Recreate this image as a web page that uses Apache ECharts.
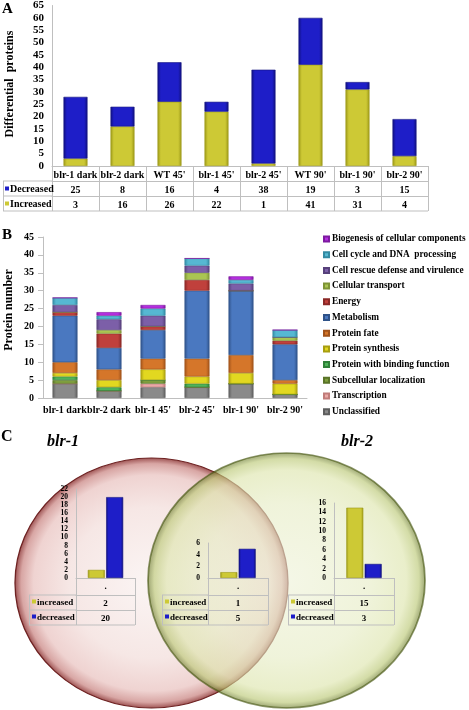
<!DOCTYPE html>
<html><head><meta charset="utf-8">
<script src="https://cdn.jsdelivr.net/npm/echarts@6/dist/echarts.min.js"></script>
<style>html,body{margin:0;padding:0;background:#fff}#c{width:469px;height:710px}</style>
</head><body><div id="c"></div>
<script>
// ---------- Panel A data ----------
const catA = ['blr-1 dark', 'blr-2 dark', "WT 45'", "blr-1 45'", "blr-2 45'", "WT 90'", "blr-1 90'", "blr-2 90'"];
const nameDecA = 'Decreased';
const nameIncA = 'Increased';
const decA = [25, 8, 16, 4, 38, 19, 3, 15];
const incA = [3, 16, 26, 22, 1, 41, 31, 4];
const axisA = {min: 0, max: 65, interval: 5};

// ---------- Panel B data (stack order bottom -> top) ----------
const catB = ['blr-1 dark', 'blr-2 dark', "blr-1 45'", "blr-2 45'", "blr-1 90'", "blr-2 90'"];
const namesB = ['Unclassified', 'Transcription', 'Subcellular localization', 'Protein with binding function',
  'Protein synthesis', 'Protein fate', 'Metabolism', 'Energy', 'Cellular transport',
  'Cell rescue defense and virulence', 'Cell cycle and\u00a0DNA  processing', 'Biogenesis of cellular components'];
const unclassified  = [4, 2, 3, 3, 4, 1];
const transcription = [0, 0, 1, 0, 0, 0];
const subcellular   = [1, 0, 1, 0, 0, 0];
const binding       = [1, 1, 0, 1, 0, 0];
const synthesis     = [1, 2, 3, 2, 3, 3];
const fate          = [3, 3, 3, 5, 5, 1];
const metabolism    = [13, 6, 8, 19, 18, 10];
const energy        = [1, 4, 1, 3, 0, 1];
const transport     = [0, 1, 0, 2, 0, 1];
const rescue        = [2, 3, 3, 2, 2, 0];
const cycle         = [2, 1, 2, 2, 1, 2];
const biogenesis    = [0, 1, 1, 0, 1, 0];
const valuesB = [unclassified, transcription, subcellular, binding, synthesis, fate, metabolism, energy, transport, rescue, cycle, biogenesis];
const axisB = {min: 0, max: 45, interval: 5};

// ---------- Panel C data ----------
const vennNames = ['blr-1', 'blr-2'];
const catC = ['.'];
const nameIncC = 'increased';
const nameDecC = 'decreased';
const incC = [2, 1, 15];
const decC = [20, 5, 3];
const maxC = [22, 6, 16];
const intervalC = 2;

// ---------- styles ----------
const FONT = '"Liberation Serif", "Times New Roman", serif';
const AXC = '#bfbfbf';
function lbl(size) { return {fontFamily: FONT, fontWeight: 'bold', fontSize: size, color: '#000'}; }
function bevel(base, edge) {
  return new echarts.graphic.LinearGradient(0, 0, 1, 0, [
    {offset: 0, color: edge}, {offset: 0.14, color: base}, {offset: 0.86, color: base}, {offset: 1, color: edge}]);
}
const colB = ['#8a8a8a', '#eaa8a6', '#7f9f3e', '#4fb35a', '#e2d820', '#d5762a', '#4a78c0', '#c0403c', '#aac552', '#7c5fa8', '#56b8d2', '#b52ee0'];
const edgeB = ['#5e5e5e', '#c07c7a', '#5a7428', '#2f8038', '#a89e10', '#a0521a', '#2f5288', '#8a2826', '#7e9436', '#56407a', '#338aa2', '#7d1aa0'];
const YEL = '#cdc935', YEL_E = '#9c9818', BLU = '#1e1ec8', BLU_E = '#10107e';

const gridsC = [
  {left: 76, top: 489, width: 59, height: 89, labLeft: 29},
  {left: 208, top: 543, width: 60, height: 35, labLeft: 162},
  {left: 334, top: 503, width: 60, height: 75, labLeft: 288}
];
const rowH0 = 17, rowH = 15;

function tableAxis(gridIndex, data, offset, len, labSize, margin) {
  return {
    gridIndex, type: 'category', data, position: 'bottom', offset,
    axisLine: {show: true, lineStyle: {color: AXC, width: 1}},
    axisTick: {show: true, length: len, interval: 0, lineStyle: {color: AXC, width: 1}},
    axisLabel: Object.assign({interval: 0, margin}, lbl(labSize)),
    splitLine: {show: false}
  };
}

const xAxis = [
  tableAxis(0, catA, 0, 15, 10, 4),
  tableAxis(0, decA.map(String), 15, 15, 10, 4),
  tableAxis(0, incA.map(String), 30, 15, 10, 4),
  {gridIndex: 1, type: 'category', data: catB, axisLine: {lineStyle: {color: AXC}}, axisTick: {show: false},
   axisLabel: Object.assign({interval: 0, margin: 7}, lbl(10))}
];
gridsC.forEach((g, k) => {
  xAxis.push(tableAxis(2 + k, catC, 0, rowH0, 9, 4));
  xAxis.push(tableAxis(2 + k, [String(incC[k])], rowH0, rowH, 9, 4));
  xAxis.push(tableAxis(2 + k, [String(decC[k])], rowH0 + rowH, rowH, 9, 4));
});

const yAxis = [
  {gridIndex: 0, type: 'value', min: axisA.min, max: axisA.max, interval: axisA.interval,
   axisLine: {show: true, lineStyle: {color: AXC}}, axisTick: {show: false}, splitLine: {show: false},
   axisLabel: Object.assign({margin: 8}, lbl(11))},
  {gridIndex: 1, type: 'value', min: axisB.min, max: axisB.max, interval: axisB.interval,
   axisLine: {show: true, lineStyle: {color: AXC}}, axisTick: {show: true, length: 5, lineStyle: {color: AXC}}, splitLine: {show: false},
   axisLabel: Object.assign({margin: 9}, lbl(10))}
];
gridsC.forEach((g, k) => {
  yAxis.push({gridIndex: 2 + k, type: 'value', min: 0, max: maxC[k], interval: intervalC,
    axisLine: {show: true, lineStyle: {color: AXC}}, axisTick: {show: false}, splitLine: {show: false},
    axisLabel: Object.assign({margin: 8, lineHeight: 8}, lbl(7.5))});
});

const series = [
  {type: 'bar', name: nameIncA, xAxisIndex: 0, yAxisIndex: 0, stack: 'A', data: incA, barWidth: 24,
   itemStyle: {color: bevel(YEL, YEL_E), borderColor: YEL_E, borderWidth: 0.6}},
  {type: 'bar', name: nameDecA, xAxisIndex: 0, yAxisIndex: 0, stack: 'A', data: decA, barWidth: 24,
   itemStyle: {color: bevel(BLU, BLU_E), borderColor: BLU_E, borderWidth: 0.6}}
];
namesB.forEach((n, i) => {
  series.push({type: 'bar', name: n, xAxisIndex: 3, yAxisIndex: 1, stack: 'B', data: valuesB[i], barWidth: 25,
    itemStyle: {color: bevel(colB[i], edgeB[i]), borderColor: edgeB[i], borderWidth: 0.6}});
});
gridsC.forEach((g, k) => {
  const xi = 4 + k * 3;
  series.push({type: 'bar', name: nameIncC, xAxisIndex: xi, yAxisIndex: 2 + k, data: [incC[k]], barWidth: 17, barGap: '8%',
    itemStyle: {color: bevel(YEL, YEL_E), borderColor: YEL_E, borderWidth: 0.6}});
  series.push({type: 'bar', name: nameDecC, xAxisIndex: xi, yAxisIndex: 2 + k, data: [decC[k]], barWidth: 17, barGap: '8%',
    itemStyle: {color: bevel(BLU, BLU_E), borderColor: BLU_E, borderWidth: 0.6}});
});

function T(text, x, y, font, opts) {
  return Object.assign({type: 'text', x, y, z: 10, style: {text, font, fill: '#000',
    align: (opts && opts.align) || 'left', textAlign: (opts && opts.align) || 'left',
    verticalAlign: 'middle', textVerticalAlign: 'middle'}}, opts && opts.el);
}
function L(x1, y1, x2, y2) {
  return {type: 'line', z: 10, shape: {x1, y1, x2, y2}, style: {stroke: AXC, lineWidth: 1}};
}
function R(x, y, w, h, c) {
  return {type: 'rect', z: 10, shape: {x, y, width: w, height: h}, style: {fill: c}};
}

const gridA = {left: 52, bottom: 166, right: 428};
const graphics = [];
// Venn circles
graphics.push({type: 'circle', x: 151.5, y: 583, scaleX: 136.5 / 125, scaleY: 1, z: -10, zlevel: 0,
  shape: {cx: 0, cy: 0, r: 125},
  style: {fill: new echarts.graphic.RadialGradient(0.5, 0.5, 0.5, [
    {offset: 0, color: '#fbf5f4'}, {offset: 0.6, color: '#f6e7e5'}, {offset: 0.86, color: '#efd3d1'},
    {offset: 0.95, color: '#d8a6a4'}, {offset: 1, color: '#9a4e4e'}]), stroke: '#6e2222', lineWidth: 1.2}});
graphics.push({type: 'circle', x: 286.5, y: 580.5, scaleX: 138.5 / 127.5, scaleY: 1, z: -9, zlevel: 0,
  shape: {cx: 0, cy: 0, r: 127.5},
  style: {opacity: 0.62, fill: new echarts.graphic.RadialGradient(0.5, 0.5, 0.5, [
    {offset: 0, color: '#eef2d8'}, {offset: 0.6, color: '#e6ecc4'}, {offset: 0.86, color: '#dce4aa'},
    {offset: 0.95, color: '#b8c670'}, {offset: 1, color: '#5c6c1c'}]), stroke: '#44540e', lineWidth: 1.6}});

// panel letters & titles
graphics.push(T('A', 2, 9, 'bold 15px ' + FONT));
graphics.push(T('B', 2, 235, 'bold 15px ' + FONT));
graphics.push(T('C', 1, 437, 'bold 16px ' + FONT));
graphics.push(T('Differential  proteins', 10, 84, 'bold 12px ' + FONT, {align: 'center', el: {rotation: Math.PI / 2}}));
graphics.push(T('Protein number', 9, 310, 'bold 12px ' + FONT, {align: 'center', el: {rotation: Math.PI / 2}}));
graphics.push(T(vennNames[0], 63, 442, 'italic bold 16px ' + FONT, {align: 'center'}));
graphics.push(T(vennNames[1], 357, 442, 'italic bold 16px ' + FONT, {align: 'center'}));

// table A left column
const tA0 = gridA.bottom + 15, lx = 3;
graphics.push(L(lx, tA0, gridA.left, tA0));
graphics.push(L(lx, tA0 + 15, gridA.left, tA0 + 15));
graphics.push(L(lx, tA0 + 30, gridA.right, tA0 + 30));
graphics.push(L(lx + 0.5, tA0, lx + 0.5, tA0 + 30));
graphics.push(R(5, tA0 + 5.5, 4, 4, BLU));
graphics.push(T(nameDecA, 10, tA0 + 8, 'bold 10px ' + FONT));
graphics.push(R(5, tA0 + 20.5, 4, 4, YEL));
graphics.push(T(nameIncA, 10, tA0 + 23, 'bold 10px ' + FONT));

// tables C left column
gridsC.forEach(g => {
  const y0 = g.top + g.height + rowH0;
  const right = g.left + g.width;
  graphics.push(L(g.labLeft, y0, g.left, y0));
  graphics.push(L(g.labLeft, y0 + rowH, g.left, y0 + rowH));
  graphics.push(L(g.labLeft, y0 + 2 * rowH, right, y0 + 2 * rowH));
  graphics.push(L(g.labLeft + 0.5, y0, g.labLeft + 0.5, y0 + 2 * rowH));
  graphics.push(R(g.labLeft + 3, y0 + 4.5, 4, 4, YEL));
  graphics.push(T(nameIncC, g.labLeft + 8, y0 + 8, 'bold 9px ' + FONT));
  graphics.push(R(g.labLeft + 3, y0 + rowH + 4.5, 4, 4, BLU));
  graphics.push(T(nameDecC, g.labLeft + 8, y0 + rowH + 8, 'bold 9px ' + FONT));
});

const option = {
  backgroundColor: '#fff',
  animation: false,
  grid: [
    {left: 52, top: 4, width: 376, height: 162},
    {left: 43, top: 237, width: 264, height: 161},
    ...gridsC.map(g => ({left: g.left, top: g.top, width: g.width, height: g.height}))
  ],
  legend: {
    data: namesB.slice().reverse(), orient: 'vertical', left: 323, top: 233, padding: 0,
    itemWidth: 5, itemHeight: 5, itemGap: 3.7, icon: 'rect', selectedMode: false,
    textStyle: Object.assign({lineHeight: 12, padding: [0, 0, 0, -2]}, lbl(9.3))
  },
  xAxis, yAxis, series,
  graphic: {elements: graphics}
};
const chart = echarts.init(document.getElementById('c'), null, {renderer: 'canvas'});
chart.setOption(option);
</script></body></html>
